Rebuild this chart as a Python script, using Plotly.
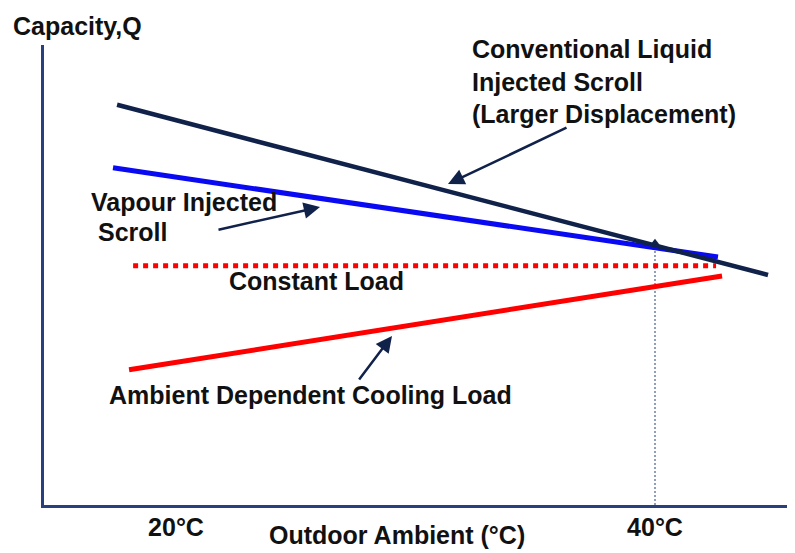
import plotly.graph_objects as go

# ---------------- data ----------------
# Outdoor ambient temperature (°C) and relative capacity Q (arbitrary units)
conv_x = [17.54, 44.72]          # Conventional liquid injected scroll
conv_q = [87.0, 50.0]
vap_x = [17.37, 42.63]           # Vapour injected scroll
vap_q = [73.3, 53.9]
const_x = [18.21, 42.55]         # Constant load
const_q = [52.0, 52.0]
amb_x = [18.04, 42.8]            # Ambient dependent cooling load
amb_q = [29.4, 49.8]
design_x = [40, 40]              # 40 °C design point marker line
design_q = [0, 57.0]

tick_vals = [20, 40]
tick_text = ["20°C", "40°C"]

# ---------------- layout geometry ----------------
# The page body adds an 8px offset, so the figure is drawn 8px smaller.
OFF = 8
W, H = 795 - OFF, 553 - OFF
# plot area in window pixels
PL, PR, PT, PB = 44, 795, 45, 505
L, R, T, B = PL - OFF, 0, PT - OFF, H - (PB - OFF)
XR = [14.489, 45.846]
YR = [0, 100]


def px2x(px):
    return XR[0] + (px - PL) * (XR[1] - XR[0]) / (PR - PL)


def px2y(py):
    return YR[0] + (PB - py) * (YR[1] - YR[0]) / (PB - PT)


def px2paper(px, py):
    return (px - PL) / (PR - PL), (PB - py) / (PB - PT)


FONT = "Liberation Sans, Arial, sans-serif"
NAVY = "#10214a"
AXIS = "#2a3f7e"

fig = go.Figure()
fig.add_trace(go.Scatter(x=design_x, y=design_q, mode="lines",
                         line=dict(color="#6d7fa3", width=1.5, dash="2px,2px"),
                         hoverinfo="skip"))
fig.add_trace(go.Scatter(x=amb_x, y=amb_q, mode="lines",
                         line=dict(color="#ff0000", width=5), hoverinfo="skip"))
fig.add_trace(go.Scatter(x=const_x, y=const_q, mode="lines",
                         line=dict(color="#ff0000", width=5, dash="dot"), hoverinfo="skip"))
fig.add_trace(go.Scatter(x=vap_x, y=vap_q, mode="lines",
                         line=dict(color="#0a0af2", width=5), hoverinfo="skip"))
fig.add_trace(go.Scatter(x=conv_x, y=conv_q, mode="lines",
                         line=dict(color=NAVY, width=4.5), hoverinfo="skip"))
fig.add_trace(go.Scatter(x=[design_x[1]], y=[design_q[1]], mode="markers",
                         marker=dict(symbol="triangle-up", size=8, color=NAVY),
                         hoverinfo="skip"))

tf = dict(family=FONT, size=25, color="#111111", weight="bold")


def label(text, px, py, xanchor="left"):
    x, y = px2paper(px, py)
    fig.add_annotation(x=x, y=y, xref="paper", yref="paper", text=text,
                       showarrow=False, xanchor=xanchor, yanchor="middle",
                       align="left", font=tf)


def arrow(tail, head):
    fig.add_annotation(x=px2x(head[0]), y=px2y(head[1]),
                       ax=px2x(tail[0]), ay=px2y(tail[1]),
                       axref="x", ayref="y", xref="x", yref="y",
                       text="", showarrow=True, arrowhead=2, arrowsize=1.3,
                       arrowwidth=2.5, arrowcolor=NAVY)


label("Capacity,Q", 11, 26)
label("Conventional Liquid<br>Injected Scroll<br>(Larger Displacement)", 470, 81)
label("Vapour Injected", 89, 202)
label("Scroll", 96, 232)
label("Constant Load", 316, 281, xanchor="center")
label("Ambient Dependent Cooling Load", 310, 395, xanchor="center")
label("Outdoor Ambient (°C)", 397, 535, xanchor="center")

arrow((568, 127), (448, 184))
arrow((217, 230), (320, 207))
arrow((358, 381), (392, 336))

fig.update_layout(
    width=W, height=H,
    margin=dict(l=L, r=R, t=T, b=B),
    paper_bgcolor="white", plot_bgcolor="white",
    showlegend=False,
    xaxis=dict(range=XR, showgrid=False, zeroline=False, showline=True,
               linecolor=AXIS, linewidth=2.5, tickvals=tick_vals, ticktext=tick_text,
               ticks="", tickfont=tf, ticklabelstandoff=-2, fixedrange=True),
    yaxis=dict(range=YR, showgrid=False, zeroline=False, showline=True,
               linecolor=AXIS, linewidth=2.5, showticklabels=False, ticks="",
               fixedrange=True),
)

fig.write_html("out.html")
